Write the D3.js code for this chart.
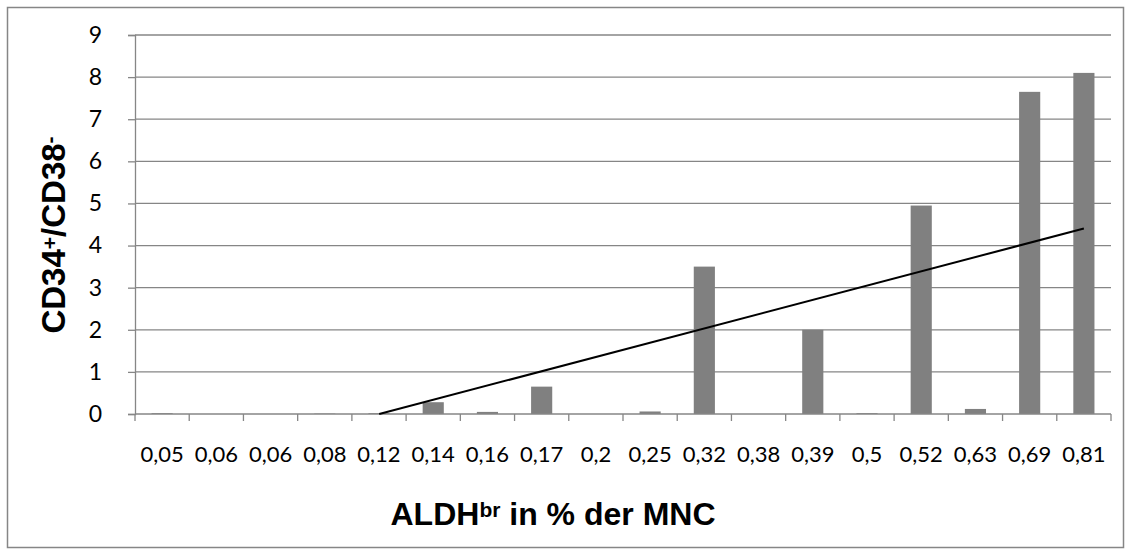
<!DOCTYPE html>
<html>
<head>
<meta charset="utf-8">
<script src="https://cdn.jsdelivr.net/npm/d3@7"></script>
<style>
  body { margin: 0; background: #fff; }
  svg { display: block; }
</style>
</head>
<body>
<svg id="chart"></svg>
<script>
// categories on the x axis (ALDHbr in % der MNC)
let categories = ['0,05', '0,06', '0,06', '0,08', '0,12', '0,14', '0,16', '0,17', '0,2',
  '0,25', '0,32', '0,38', '0,39', '0,5', '0,52', '0,63', '0,69', '0,81']
// CD34+/CD38- values
let values = [0.02, 0, 0, 0.01, 0.02, 0.28, 0.05, 0.65, 0, 0.06, 3.5, 0, 2.0, 0.02, 4.95, 0.12, 7.65, 8.1]
let yTicks = [0, 1, 2, 3, 4, 5, 6, 7, 8, 9]

let width = 1131
let height = 554
let margin = { top: 35, right: 20, bottom: 140, left: 135 }
let plotW = 1111 - margin.left
let plotH = 414 - margin.top
let gray = '#868686'

let svg = d3.select('#chart').attr('width', width).attr('height', height)

// outer chart border
svg.append('rect')
  .attr('x', 7.5).attr('y', 7.5)
  .attr('width', 1116).attr('height', 540)
  .attr('fill', '#fff')
  .attr('stroke', gray)
  .attr('stroke-width', 1.5)

let g = svg.append('g').attr('transform', 'translate(' + margin.left + ',' + margin.top + ')')

let x = d3.scaleBand().domain(d3.range(categories.length)).range([0, plotW]).paddingInner(0.61).paddingOuter(0.305)
let xTick = d3.scaleBand().domain(d3.range(categories.length)).range([0, plotW])
let y = d3.scaleLinear().domain([0, 9]).range([plotH, 0])

// horizontal gridlines
g.append('g')
  .selectAll('line')
  .data(yTicks.slice(1))
  .enter().append('line')
  .attr('x1', 0).attr('x2', plotW)
  .attr('y1', d => y(d)).attr('y2', d => y(d))
  .attr('stroke', gray).attr('stroke-width', 1.3)

// y axis
let yAxis = g.append('g')
  .call(d3.axisLeft(y).tickValues(yTicks).tickSize(7).tickPadding(26).tickFormat(d3.format('d')))
yAxis.select('.domain').attr('stroke', gray).attr('stroke-width', 1.3)
yAxis.selectAll('.tick line').attr('stroke', gray).attr('stroke-width', 1.3)
yAxis.selectAll('text')
  .attr('fill', '#000')
  .style('font-family', 'Lato, "Open Sans", sans-serif')
  .style('font-size', '23px')

// bars
g.append('g')
  .selectAll('rect')
  .data(values)
  .enter().append('rect')
  .attr('x', (d, i) => x(i))
  .attr('y', d => y(d))
  .attr('width', x.bandwidth())
  .attr('height', d => plotH - y(d))
  .attr('fill', '#808080')

// x axis: baseline and ticks on band edges
let xa = g.append('g').attr('transform', 'translate(0,' + plotH + ')')
xa.append('line')
  .attr('x1', 0).attr('x2', plotW)
  .attr('stroke', gray).attr('stroke-width', 1.3)
xa.selectAll('line.tk')
  .data(d3.range(categories.length + 1))
  .enter().append('line')
  .attr('class', 'tk')
  .attr('x1', d => d * xTick.step()).attr('x2', d => d * xTick.step())
  .attr('y1', 0).attr('y2', 7)
  .attr('stroke', gray).attr('stroke-width', 1.3)
xa.selectAll('text')
  .data(categories)
  .enter().append('text')
  .attr('x', (d, i) => xTick(i) + xTick.bandwidth() / 2)
  .attr('y', 48)
  .attr('text-anchor', 'middle')
  .style('font-family', 'Lato, "Open Sans", sans-serif')
  .style('font-size', '22px')
  .text(d => d)

// linear trendline (least squares over category index 1..n), clipped at 0
let xs = values.map((d, i) => i + 1)
let mx = d3.mean(xs)
let my = d3.mean(values)
let slope = d3.sum(xs, (d, i) => (d - mx) * (values[i] - my)) / d3.sum(xs, d => (d - mx) * (d - mx))
let icpt = my - slope * mx
let xStart = Math.max(1, -icpt / slope)
let xEnd = categories.length
let pos = v => xTick.step() * (v - 0.5)
g.append('line')
  .attr('x1', pos(xStart)).attr('y1', y(slope * xStart + icpt))
  .attr('x2', pos(xEnd)).attr('y2', y(slope * xEnd + icpt))
  .attr('stroke', '#000').attr('stroke-width', 2)

// axis titles
let yt = svg.append('text')
  .attr('transform', 'translate(65,235)rotate(-90)')
  .attr('text-anchor', 'middle')
  .style('font-family', '"Liberation Sans", Arial, sans-serif')
  .style('font-weight', 'bold')
  .style('font-size', '33px')
yt.append('tspan').text('CD34')
yt.append('tspan').attr('baseline-shift', '40%').style('font-size', '21px').text('+')
yt.append('tspan').text('/CD38')
yt.append('tspan').attr('baseline-shift', '40%').style('font-size', '21px').text('-')

let xt = svg.append('text')
  .attr('x', 553).attr('y', 525)
  .attr('text-anchor', 'middle')
  .style('font-family', '"Liberation Sans", Arial, sans-serif')
  .style('font-weight', 'bold')
  .style('font-size', '32px')
xt.append('tspan').text('ALDH')
xt.append('tspan').attr('baseline-shift', '40%').style('font-size', '21px').text('br')
xt.append('tspan').attr('baseline-shift', '0%').text(' in % der MNC')
</script>
</body>
</html>
